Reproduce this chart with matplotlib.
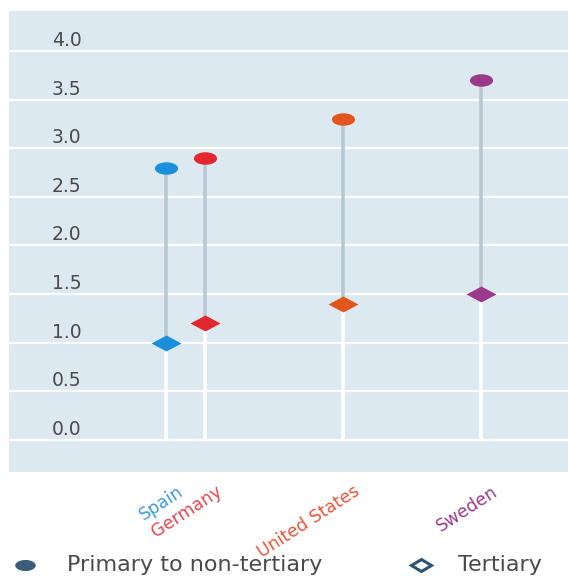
import matplotlib
matplotlib.use("Agg")
import matplotlib.pyplot as plt
from matplotlib.markers import MarkerStyle
from matplotlib.transforms import Affine2D, offset_copy, blended_transform_factory
from matplotlib.lines import Line2D

# data
countries = ["Spain", "Germany", "United States", "Sweden"]
x_pos = [2.81, 3.51, 5.97, 8.44]
primary = [2.80, 2.90, 3.30, 3.70]
tertiary = [1.00, 1.20, 1.40, 1.50]
colors = ["#1a8fdc", "#e4262f", "#e2561e", "#9b3a8b"]
label_colors = ["#3d9be0", "#e8474d", "#e8563a", "#9b3a8b"]
yticks = [0.0, 0.5, 1.0, 1.5, 2.0, 2.5, 3.0, 3.5, 4.0]

bg = "#dde9f1"
stem = "#b8c8d2"
txt = "#4a4a4a"

circle = MarkerStyle("o", transform=Affine2D().scale(1.85, 1.0))
diamond = MarkerStyle("D", transform=Affine2D().scale(1.95, 1.0))

fig = plt.figure(figsize=(5.68, 5.76), dpi=100)
ax = fig.add_axes([9 / 568, 104 / 576, 559 / 568, 461 / 576])
ax.set_facecolor(bg)
ax.set_xlim(0, 10)
ax.set_ylim(-0.33, 4.41)

for v in yticks:
    ax.axhline(v, color="white", lw=1.6, zorder=1)

for i in range(len(countries)):
    x = x_pos[i]
    ax.plot([x, x], [0, tertiary[i]], color="white", lw=2.6, zorder=2,
            solid_capstyle="butt")
    ax.plot([x, x], [tertiary[i], primary[i]], color=stem, lw=2.6, zorder=2,
            solid_capstyle="butt")
    ax.plot(x, primary[i], marker=circle, ms=9, color=colors[i], mec="none",
            zorder=3)
    ax.plot(x, tertiary[i], marker=diamond, ms=7.8, color=colors[i], mec="none",
            zorder=3)

# y labels sit inside the plot, just above each gridline
ytr = offset_copy(blended_transform_factory(ax.transAxes, ax.transData),
                  fig=fig, x=0, y=7.5, units="points")
for v in yticks:
    ax.text(0.077, v, f"{v:.1f}", transform=ytr, ha="left", va="center",
            fontsize=13.5, color=txt)

# country labels under the plot
xtr = blended_transform_factory(ax.transData, ax.transAxes)
for i in range(len(countries)):
    t = offset_copy(xtr, fig=fig, x=11, y=-13, units="points")
    ax.text(x_pos[i], 0, countries[i], transform=t, rotation=33,
            rotation_mode="anchor", ha="right", va="center",
            fontsize=12.5, color=label_colors[i])

ax.set_xticks([])
ax.set_yticks([])
for s in ax.spines.values():
    s.set_visible(False)

# legend
fig.add_artist(Line2D([25 / 568], [11 / 576], transform=fig.transFigure,
                      marker=circle, ms=8, color="#3b5d7a", mec="none", ls=""))
fig.text(67 / 568, 11 / 576, "Primary to non-tertiary", fontsize=16,
         color=txt, ha="left", va="center")
fig.add_artist(Line2D([421 / 568], [11 / 576], transform=fig.transFigure,
                      marker=MarkerStyle("D", transform=Affine2D().scale(1.5, 1.0)),
                      ms=6.5, mfc="white", mec="#2c5575", mew=2.2, ls=""))
fig.text(458 / 568, 11 / 576, "Tertiary", fontsize=16, color=txt,
         ha="left", va="center")

fig.savefig("out.png", dpi=100, facecolor="white")
